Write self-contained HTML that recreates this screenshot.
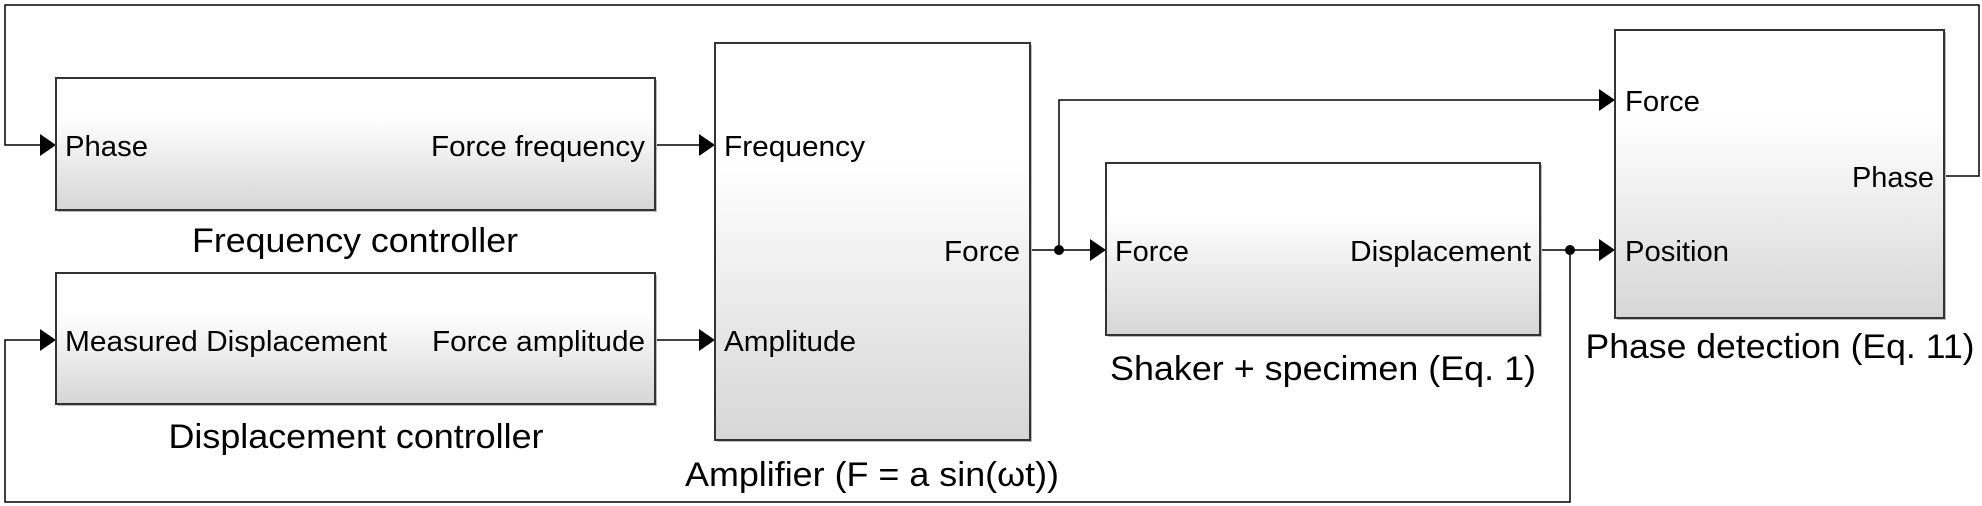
<!DOCTYPE html>
<html><head><meta charset="utf-8"><style>
html,body{margin:0;padding:0;background:#fff;}
svg{display:block;font-family:"Liberation Sans",Arial,sans-serif;}
</style></head><body>
<svg width="1982" height="506" viewBox="0 0 1982 506">
<defs>
<linearGradient id="g" x1="0" y1="0" x2="0" y2="1">
<stop offset="0" stop-color="#ffffff"/><stop offset="0.3" stop-color="#ffffff"/><stop offset="1" stop-color="#d6d6d6"/>
</linearGradient>
</defs>
<g fill="none" stroke="#000" stroke-width="1.5">
<polyline points="1944,176 1979,176 1979,5 5,5 5,145 40,145"/>
<line x1="655" y1="145" x2="699" y2="145"/>
<line x1="655" y1="340" x2="699" y2="340"/>
<line x1="1030" y1="250" x2="1090" y2="250"/>
<polyline points="1059,250 1059,100 1599,100"/>
<line x1="1540" y1="250" x2="1599" y2="250"/>
<polyline points="1570,250 1570,502 5,502 5,340 40,340"/>
</g>
<g fill="#000">
<polygon points="40,134 56,145 40,156"/>
<polygon points="699,134 715,145 699,156"/>
<polygon points="40,329 56,340 40,351"/>
<polygon points="699,329 715,340 699,351"/>
<polygon points="1090,239 1106,250 1090,261"/>
<polygon points="1599,89 1615,100 1599,111"/>
<polygon points="1599,239 1615,250 1599,261"/>
<circle cx="1059" cy="250" r="5"/>
<circle cx="1570" cy="250" r="5"/>
</g>
<g stroke="#333" stroke-width="2" fill="url(#g)">
<rect x="58" y="80" width="599" height="132" fill="#bbb" stroke="none"/>
<rect x="56" y="78" width="599" height="132"/>
<rect x="58" y="275" width="599" height="131" fill="#bbb" stroke="none"/>
<rect x="56" y="273" width="599" height="131"/>
<rect x="717" y="45" width="315" height="397" fill="#bbb" stroke="none"/>
<rect x="715" y="43" width="315" height="397"/>
<rect x="1108" y="165" width="434" height="172" fill="#bbb" stroke="none"/>
<rect x="1106" y="163" width="434" height="172"/>
<rect x="1617" y="32" width="329" height="288" fill="#bbb" stroke="none"/>
<rect x="1615" y="30" width="329" height="288"/>
</g>
<g font-size="29" fill="#000" lengthAdjust="spacingAndGlyphs">
<text x="65" y="156" textLength="83" lengthAdjust="spacingAndGlyphs">Phase</text>
<text x="431" y="156" textLength="214" lengthAdjust="spacingAndGlyphs">Force frequency</text>
<text x="65" y="351" textLength="322" lengthAdjust="spacingAndGlyphs">Measured Displacement</text>
<text x="432" y="351" textLength="213" lengthAdjust="spacingAndGlyphs">Force amplitude</text>
<text x="724" y="156" textLength="141" lengthAdjust="spacingAndGlyphs">Frequency</text>
<text x="724" y="351" textLength="132" lengthAdjust="spacingAndGlyphs">Amplitude</text>
<text x="944" y="261" textLength="76" lengthAdjust="spacingAndGlyphs">Force</text>
<text x="1115" y="261" textLength="74" lengthAdjust="spacingAndGlyphs">Force</text>
<text x="1350" y="261" textLength="181" lengthAdjust="spacingAndGlyphs">Displacement</text>
<text x="1625" y="111" textLength="75" lengthAdjust="spacingAndGlyphs">Force</text>
<text x="1625" y="261" textLength="104" lengthAdjust="spacingAndGlyphs">Position</text>
<text x="1852" y="187" textLength="82" lengthAdjust="spacingAndGlyphs">Phase</text>
</g>
<g font-size="34" fill="#000" text-anchor="middle">
<text x="355" y="252" textLength="326" lengthAdjust="spacingAndGlyphs">Frequency controller</text>
<text x="356" y="448" textLength="375" lengthAdjust="spacingAndGlyphs">Displacement controller</text>
<text x="872" y="486" textLength="374" lengthAdjust="spacingAndGlyphs">Amplifier (F = a sin(ωt))</text>
<text x="1323" y="380" textLength="426" lengthAdjust="spacingAndGlyphs">Shaker + specimen (Eq. 1)</text>
<text x="1780" y="358" textLength="389" lengthAdjust="spacingAndGlyphs">Phase detection (Eq. 11)</text>
</g>
</svg>
</body></html>
